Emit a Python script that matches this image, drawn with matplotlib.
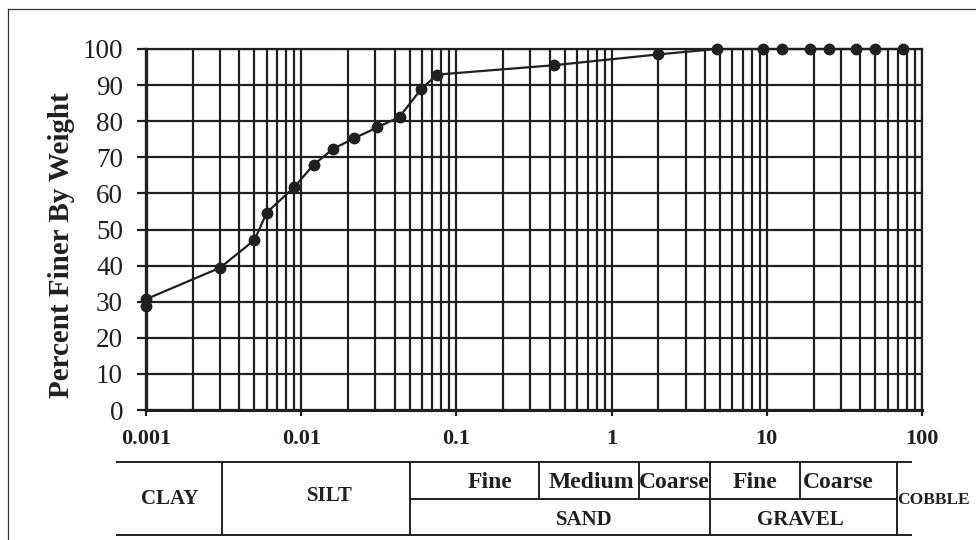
import matplotlib.pyplot as plt
import matplotlib.transforms as mtransforms
from matplotlib.lines import Line2D
from matplotlib.ticker import FixedLocator, NullFormatter

plt.rcParams['font.family'] = ['Liberation Serif', 'DejaVu Serif']

INK = '#231f20'

# grain size distribution: sieve + hydrometer results
grain_mm = [75, 50, 37.5, 25, 19, 12.5, 9.5, 4.75, 2.0, 0.425, 0.075,
            0.059, 0.043, 0.031, 0.022, 0.016, 0.012, 0.009, 0.006, 0.005,
            0.003, 0.001, 0.001]
pct_finer = [100, 100, 100, 100, 100, 100, 100, 100, 98.5, 95.5, 92.9,
             88.8, 81.2, 78.3, 75.3, 72.3, 67.9, 61.7, 54.7, 47.1,
             39.4, 30.7, 28.8]

x_ticks = [0.001, 0.01, 0.1, 1, 10, 100]
x_tick_labels = ['0.001', '0.01', '0.1', '1', '10', '100']
y_ticks = list(range(0, 101, 10))

# soil classification band limits (mm)
band_left, band_right = 0.00065, 84.6
clay_silt, silt_sand = 0.0031, 0.05
sand_fine_med, sand_med_coarse = 0.34, 1.5
sand_gravel, gravel_fine_coarse, gravel_cobble = 4.3, 16.4, 68.7

fig = plt.figure(figsize=(9.76, 5.4), dpi=100)
ax = fig.add_axes([0.1496, 0.2407, 0.7951, 0.6686])

ax.plot(grain_mm, pct_finer, color=INK, lw=1.6, marker='o', ms=7.5,
        mfc=INK, mec=INK, clip_on=False, zorder=5)

ax.set_xscale('log')
ax.set_xlim(0.001, 100)
ax.set_ylim(0, 100)

minor = [m * 10.0 ** e for e in range(-3, 2) for m in range(2, 10)]
ax.xaxis.set_major_locator(FixedLocator(x_ticks))
ax.xaxis.set_minor_locator(FixedLocator(minor))
ax.xaxis.set_minor_formatter(NullFormatter())
ax.set_xticks(x_ticks)
ax.set_xticklabels(x_tick_labels, fontsize=16, fontweight='bold')
ax.set_yticks(y_ticks)
ax.tick_params(axis='y', labelsize=19.5, length=6.5, width=1.6, pad=10,
               color=INK, labelcolor=INK)
ax.tick_params(axis='x', which='major', length=4, width=1.6, pad=10,
               color=INK, labelcolor=INK)
ax.tick_params(axis='x', which='minor', length=0)

ax.grid(True, which='both', color=INK, lw=1.6)
ax.set_axisbelow(True)
for side, lw in (('left', 2.4), ('bottom', 2.2), ('top', 1.6), ('right', 1.6)):
    ax.spines[side].set_linewidth(lw)
    ax.spines[side].set_color(INK)

ax.set_ylabel('Percent Finer By Weight', fontsize=21, fontweight='bold',
              color=INK)
ax.yaxis.set_label_coords(-0.092, 0.457)

# classification table under the axis (x in mm, y in figure fraction)
tr = mtransforms.blended_transform_factory(ax.transData, fig.transFigure)
y_top, y_mid, y_bot = 0.145, 0.0754, 0.0093


def seg(x0, x1, y0, y1):
    fig.add_artist(Line2D([x0, x1], [y0, y1], transform=tr, color=INK,
                          lw=1.4, clip_on=False))


seg(band_left, band_right, y_top, y_top)
seg(band_left, band_right, y_bot, y_bot)
seg(silt_sand, gravel_cobble, y_mid, y_mid)
for xv in (clay_silt, silt_sand, sand_gravel, gravel_cobble):
    seg(xv, xv, y_top, y_bot)
for xv in (sand_fine_med, sand_med_coarse, gravel_fine_coarse):
    seg(xv, xv, y_top, y_mid)

upper = [('Fine', 0.1645), ('Medium', 0.744), ('Coarse', 2.52),
         ('Fine', 8.39), ('Coarse', 28.8)]
for s, xv in upper:
    fig.text(xv, 0.106, s, transform=tr, ha='center', va='center',
             fontsize=17, fontweight='bold', color=INK)

for s, xv, yv in [('CLAY', 0.00143, 0.076), ('SILT', 0.0153, 0.081),
                  ('SAND', 0.664, 0.037), ('GRAVEL', 16.4, 0.037)]:
    fig.text(xv, yv, s, transform=tr, ha='center', va='center',
             fontsize=15, fontweight='bold', color=INK)
fig.text(gravel_cobble, 0.075, 'COBBLE', transform=tr, ha='left',
         va='center', fontsize=12.5, fontweight='bold', color=INK)

# page frame (top and left edges)
fig.add_artist(Line2D([8 / 976, 1.0], [1 - 9 / 540] * 2,
                      transform=fig.transFigure, color='#333333', lw=0.9))
fig.add_artist(Line2D([8 / 976] * 2, [1 - 9 / 540, 0.0],
                      transform=fig.transFigure, color='#333333', lw=0.9))

fig.savefig('out.png', dpi=100)
